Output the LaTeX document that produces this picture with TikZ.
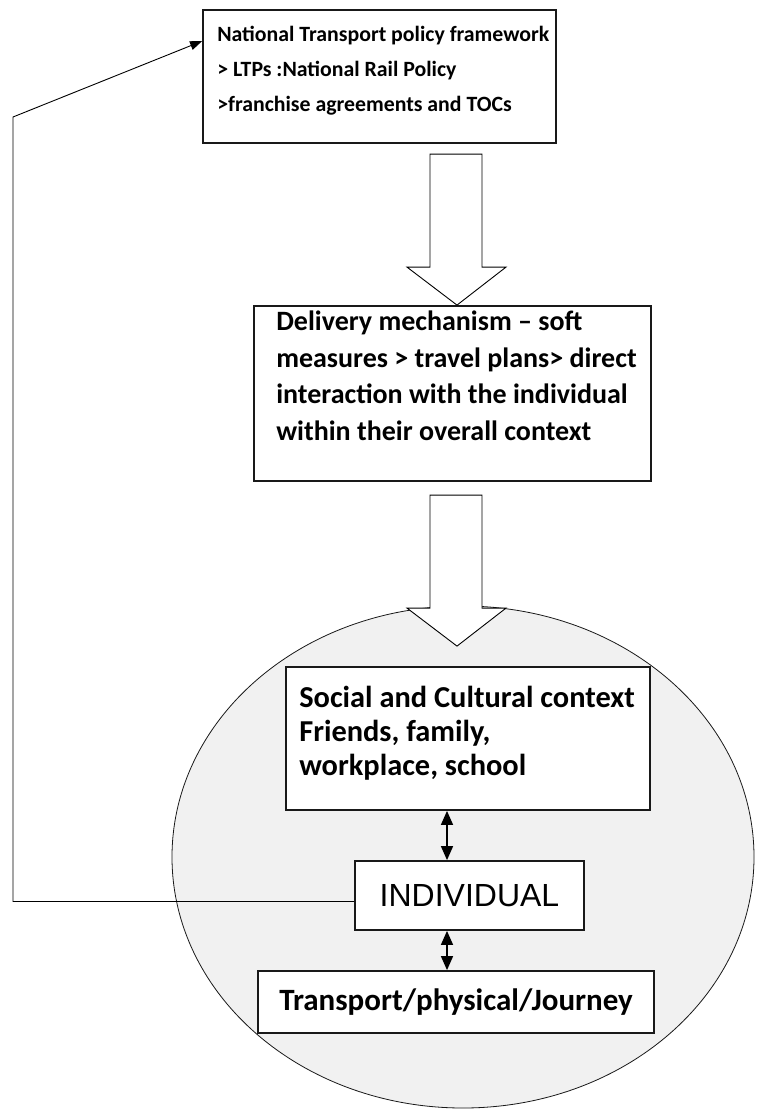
\documentclass[tikz,border=0pt]{standalone}
\usepackage{fontspec}
\setmainfont{Carlito}
\newfontfamily\capsfont{Liberation Sans}
\usetikzlibrary{arrows.meta, positioning, calc}
\definecolor{ctxgray}{RGB}{241,241,241}
\definecolor{ink}{RGB}{25,25,25}

% hollow block arrow pointing down, tip at #1
\newcommand{\blkarrow}[1]{%
  \draw[blk] (#1) -- ++(-50,-38) -- ++(23,0) -- ++(0,-113)
       -- ++(52,0) -- ++(0,113) -- ++(24,0) -- cycle;}

\begin{document}
\begin{tikzpicture}[
  x=1pt, y=-1pt,
  bx/.style={draw=ink,line width=1.8pt,fill=white,inner sep=0pt},
  txt/.style={align=left,inner sep=0pt,anchor=north west},
  blk/.style={draw=black,line width=0.9pt,fill=white},
  ctx/.style={draw=ink,line width=0.8pt,fill=ctxgray},
  dbl/.style={{Triangle[length=14pt,width=12pt]}-{Triangle[length=14pt,width=12pt]},
              line width=1.5pt},
  fb/.style={-{Triangle[length=12pt,width=9pt]},line width=0.9pt},
]
\useasboundingbox (0,0) rectangle (757,1111);

% context ellipse round the individual
\draw[ctx] (463,857) ellipse [x radius=291, y radius=251];

% boxes
\node[bx,minimum width=353pt,minimum height=133pt] (policy) at (379.5,76.5) {};
\node[bx,minimum width=397pt,minimum height=175pt] (deliv)  at (452.5,393.5) {};
\node[bx,minimum width=364pt,minimum height=143pt] (social) at (468,738.5) {};
\node[bx,minimum width=229pt,minimum height=69pt,
      font={\capsfont\fontsize{32}{38}\selectfont}] (indiv) at (469.5,895.5) {INDIVIDUAL};
\node[bx,minimum width=396pt,minimum height=62pt,
      font={\bfseries\fontsize{31}{36}\selectfont}] (trans) at (456,1002)
      {Transport/physical/Journey};

% box texts
\node[txt,font={\bfseries\fontsize{21.8}{35}\selectfont}]
      (policytxt) at ($(policy.north west)+(15,17)$)
      {National Transport policy framework\\> LTPs :National Rail Policy\\>franchise agreements and TOCs};
\node[txt,font={\bfseries\fontsize{28}{36.5}\selectfont}]
      (delivtxt) at ($(deliv.north west)+(23,6)$)
      {Delivery mechanism -- soft\\measures > travel plans> direct\\interaction with the individual\\within their overall context};
\node[txt,font={\bfseries\fontsize{30.4}{34}\selectfont}]
      (socialtxt) at ($(social.north west)+(14,20)$)
      {Social and Cultural context\\Friends, family,\\workplace, school};

% block arrows
\coordinate (arx) at (457,0);
\blkarrow{deliv.north -| arx}
\blkarrow{$(social.north -| arx)+(0,-20)$}

% two-way links
\coordinate (dax) at (447,0);
\draw[dbl] (social.south -| dax) -- (indiv.north -| dax);
\draw[dbl] (indiv.south -| dax) -- (trans.north -| dax);

% feedback to policy
\coordinate (loop) at (13,117);
\draw[fb] ($(indiv.west)+(0,6)$) -| (loop) -- ($(policy.north west)+(0,32)$);

\end{tikzpicture}
\end{document}
